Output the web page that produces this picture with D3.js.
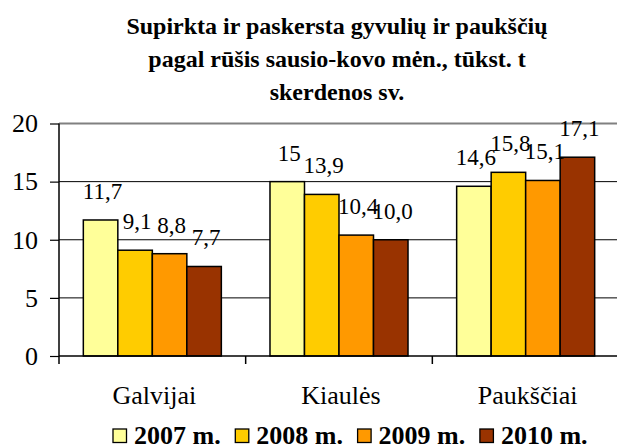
<!DOCTYPE html>
<html>
<head>
<meta charset="utf-8">
<script src="https://cdn.jsdelivr.net/npm/d3@7"></script>
</head>
<body style="margin:0">
<svg id="chart" width="617" height="446"></svg>
<script>
const titleLines = ["Supirkta ir paskersta gyvulių ir paukščių", "pagal rūšis sausio-kovo mėn., tūkst. t", "skerdenos sv."];
const categories = ["Galvijai", "Kiaulės", "Paukščiai"];
const seriesNames = ["2007 m.", "2008 m.", "2009 m.", "2010 m."];
const seriesColors = ["#FFFF99", "#FFCC00", "#FF9900", "#993300"];
const values2007 = [11.7, 15, 14.6];
const values2008 = [9.1, 13.9, 15.8];
const values2009 = [8.8, 10.4, 15.1];
const values2010 = [7.7, 10.0, 17.1];
const labels2007 = ["11,7", "15", "14,6"];
const labels2008 = ["9,1", "13,9", "15,8"];
const labels2009 = ["8,8", "10,4", "15,1"];
const labels2010 = ["7,7", "10,0", "17,1"];
const yTicks = [0, 5, 10, 15, 20];

const seriesValues = [values2007, values2008, values2009, values2010];
const seriesLabels = [labels2007, labels2008, labels2009, labels2010];

const FONT = "Liberation Serif";
const svg = d3.select("#chart");
const plot = { left: 59, right: 619, top: 123.5, bottom: 356 };

const x0 = d3.scaleBand().domain(categories).range([plot.left, plot.right]).padding(0);
const x1 = d3.scaleBand().domain(seriesNames).range([0, x0.bandwidth()]).paddingInner(0).paddingOuter(0.705);
const y = d3.scaleLinear().domain([0, 20]).range([plot.bottom, plot.top]);

// Title
svg.selectAll("text.title").data(titleLines).join("text")
  .attr("class", "title")
  .attr("x", 337).attr("y", (d, i) => 34 + i * 33)
  .attr("text-anchor", "middle")
  .attr("font-family", FONT)
  .attr("font-weight", "bold")
  .attr("font-size", 24)
  .text(d => d);

// Gridlines
svg.append("g").selectAll("line").data(yTicks.filter(d => d > 0)).join("line")
  .attr("x1", plot.left).attr("x2", plot.right)
  .attr("y1", d => y(d)).attr("y2", d => y(d))
  .attr("stroke", d => d === 20 ? "#808080" : "#000")
  .attr("stroke-width", d => d === 20 ? 2 : 1);

// Y axis
const yAxis = svg.append("g").attr("transform", `translate(${plot.left},0)`)
  .call(d3.axisLeft(y).tickValues(yTicks).tickSize(9).tickPadding(12).tickFormat(d3.format("d")));
yAxis.attr("font-family", FONT).attr("font-size", 26);
yAxis.select(".domain").remove();
yAxis.selectAll(".tick line").attr("stroke", "#000").attr("stroke-width", 1.2);
yAxis.selectAll(".tick text").attr("font-family", FONT).attr("font-size", 26).attr("fill", "#000");
svg.append("line").attr("x1", plot.left).attr("x2", plot.left)
  .attr("y1", plot.top).attr("y2", plot.bottom + 8).attr("stroke", "#000").attr("stroke-width", 1.5);

// Bars
const groups = svg.append("g").selectAll("g").data(categories).join("g")
  .attr("transform", d => `translate(${x0(d)},0)`);
groups.selectAll("rect").data((d, ci) => seriesNames.map((s, si) => ({ s, si, v: seriesValues[si][ci] })))
  .join("rect")
  .attr("x", d => x1(d.s)).attr("width", x1.bandwidth())
  .attr("y", d => y(d.v)).attr("height", d => y(0) - y(d.v))
  .attr("fill", d => seriesColors[d.si]).attr("stroke", "#000").attr("stroke-width", 1.5);
groups.selectAll("text").data((d, ci) => seriesNames.map((s, si) => ({ s, si, v: seriesValues[si][ci], t: seriesLabels[si][ci] })))
  .join("text")
  .attr("x", d => x1(d.s) + x1.bandwidth() / 2 + 2)
  .attr("y", d => y(d.v) - 21)
  .attr("text-anchor", "middle")
  .attr("font-family", FONT)
  .attr("font-size", 23)
  .text(d => d.t);

// X axis baseline and category ticks
svg.append("line").attr("x1", plot.left).attr("x2", plot.right)
  .attr("y1", plot.bottom).attr("y2", plot.bottom).attr("stroke", "#000").attr("stroke-width", 1.5);
svg.append("g").selectAll("line").data(categories).join("line")
  .attr("x1", d => x0(d) + x0.bandwidth()).attr("x2", d => x0(d) + x0.bandwidth())
  .attr("y1", plot.bottom).attr("y2", plot.bottom + 8)
  .attr("stroke", "#000").attr("stroke-width", 1.5);
svg.append("g").selectAll("text").data(categories).join("text")
  .attr("x", d => x0(d) + x0.bandwidth() / 2 + 2)
  .attr("y", 404)
  .attr("text-anchor", "middle")
  .attr("font-family", FONT)
  .attr("font-size", 26)
  .text(d => d);

// Legend
const legend = svg.append("g").selectAll("g").data(seriesNames).join("g")
  .attr("transform", (d, i) => `translate(${113 + i * 122.3},429)`);
legend.append("rect").attr("width", 13.5).attr("height", 13.5)
  .attr("fill", (d, i) => seriesColors[i]).attr("stroke", "#000").attr("stroke-width", 1.3);
legend.append("text").attr("x", 21).attr("y", 15)
  .attr("font-family", FONT)
  .attr("font-size", 26).attr("font-weight", "bold")
  .text(d => d);
</script>
</body>
</html>
